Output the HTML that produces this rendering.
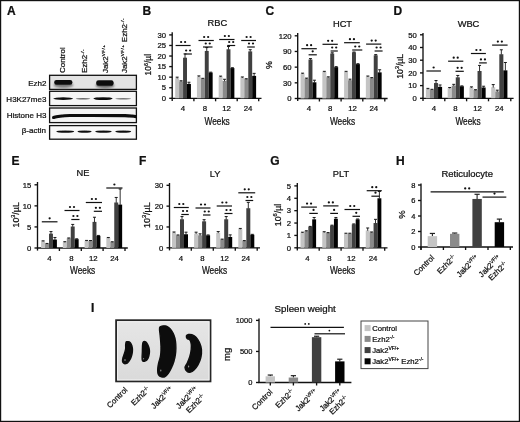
<!DOCTYPE html>
<html><head><meta charset="utf-8"><style>
html,body{margin:0;padding:0;background:#fff;overflow:hidden;width:520px;height:422px;}
svg{display:block;opacity:0.999;filter:blur(0.3px);}
text{font-family:"Liberation Sans", sans-serif;stroke:#111;stroke-width:0.24px;}
</style></head><body>
<svg width="520" height="422" viewBox="0 0 520 422">
<defs><filter id="bl6" x="-20%" y="-50%" width="140%" height="200%"><feGaussianBlur stdDeviation="0.6"/></filter><filter id="bl10" x="-30%" y="-100%" width="160%" height="300%"><feGaussianBlur stdDeviation="1.0"/></filter><filter id="bl4" x="-20%" y="-20%" width="140%" height="140%"><feGaussianBlur stdDeviation="0.4"/></filter></defs>
<rect x="0" y="0" width="520" height="422" fill="#fff"/>

<line x1="172.20" y1="32.30" x2="172.20" y2="100.90" stroke="#111" stroke-width="1.35"/>
<line x1="169.20" y1="98.30" x2="172.20" y2="98.30" stroke="#111" stroke-width="1.35"/>
<text x="166.00" y="101.05" font-size="7.7" text-anchor="end" font-weight="normal" fill="#111" >0</text>
<line x1="169.20" y1="87.73" x2="172.20" y2="87.73" stroke="#111" stroke-width="1.35"/>
<text x="166.00" y="90.48" font-size="7.7" text-anchor="end" font-weight="normal" fill="#111" >5</text>
<line x1="169.20" y1="77.17" x2="172.20" y2="77.17" stroke="#111" stroke-width="1.35"/>
<text x="166.00" y="79.92" font-size="7.7" text-anchor="end" font-weight="normal" fill="#111" >10</text>
<line x1="169.20" y1="66.60" x2="172.20" y2="66.60" stroke="#111" stroke-width="1.35"/>
<text x="166.00" y="69.35" font-size="7.7" text-anchor="end" font-weight="normal" fill="#111" >15</text>
<line x1="169.20" y1="56.03" x2="172.20" y2="56.03" stroke="#111" stroke-width="1.35"/>
<text x="166.00" y="58.78" font-size="7.7" text-anchor="end" font-weight="normal" fill="#111" >20</text>
<line x1="169.20" y1="45.47" x2="172.20" y2="45.47" stroke="#111" stroke-width="1.35"/>
<text x="166.00" y="48.22" font-size="7.7" text-anchor="end" font-weight="normal" fill="#111" >25</text>
<line x1="169.20" y1="34.90" x2="172.20" y2="34.90" stroke="#111" stroke-width="1.35"/>
<text x="166.00" y="37.65" font-size="7.7" text-anchor="end" font-weight="normal" fill="#111" >30</text>
<line x1="171.60" y1="98.30" x2="261.50" y2="98.30" stroke="#111" stroke-width="1.35"/>
<line x1="193.90" y1="98.30" x2="193.90" y2="101.30" stroke="#111" stroke-width="1.35"/>
<line x1="215.60" y1="98.30" x2="215.60" y2="101.30" stroke="#111" stroke-width="1.35"/>
<line x1="237.20" y1="98.30" x2="237.20" y2="101.30" stroke="#111" stroke-width="1.35"/>
<line x1="258.70" y1="98.30" x2="258.70" y2="101.30" stroke="#111" stroke-width="1.35"/>
<rect x="175.20" y="78.22" width="3.93" height="20.08" fill="#c4c4c4" />
<line x1="177.16" y1="77.17" x2="177.16" y2="78.52" stroke="#1a1a1a" stroke-width="0.9"/>
<line x1="175.66" y1="77.17" x2="178.66" y2="77.17" stroke="#1a1a1a" stroke-width="1.0"/>
<rect x="179.13" y="81.39" width="3.93" height="16.91" fill="#8a8a8a" />
<line x1="181.09" y1="80.76" x2="181.09" y2="81.69" stroke="#1a1a1a" stroke-width="0.9"/>
<line x1="179.59" y1="80.76" x2="182.59" y2="80.76" stroke="#1a1a1a" stroke-width="1.0"/>
<rect x="183.06" y="57.72" width="3.93" height="40.58" fill="#404040" />
<line x1="185.03" y1="53.92" x2="185.03" y2="58.02" stroke="#1a1a1a" stroke-width="0.9"/>
<line x1="183.53" y1="53.92" x2="186.53" y2="53.92" stroke="#1a1a1a" stroke-width="1.0"/>
<rect x="186.99" y="83.93" width="3.93" height="14.37" fill="#030303" />
<line x1="188.95" y1="82.24" x2="188.95" y2="84.23" stroke="#1a1a1a" stroke-width="0.9"/>
<line x1="187.45" y1="82.24" x2="190.45" y2="82.24" stroke="#1a1a1a" stroke-width="1.0"/>
<rect x="196.93" y="76.74" width="3.93" height="21.56" fill="#c4c4c4" />
<line x1="198.89" y1="75.90" x2="198.89" y2="77.04" stroke="#1a1a1a" stroke-width="0.9"/>
<line x1="197.39" y1="75.90" x2="200.39" y2="75.90" stroke="#1a1a1a" stroke-width="1.0"/>
<rect x="200.86" y="78.65" width="3.93" height="19.65" fill="#8a8a8a" />
<line x1="202.82" y1="78.30" x2="202.82" y2="78.95" stroke="#1a1a1a" stroke-width="0.9"/>
<line x1="201.32" y1="78.30" x2="204.32" y2="78.30" stroke="#1a1a1a" stroke-width="1.0"/>
<rect x="204.79" y="50.96" width="3.93" height="47.34" fill="#404040" />
<line x1="206.75" y1="47.58" x2="206.75" y2="51.26" stroke="#1a1a1a" stroke-width="0.9"/>
<line x1="205.25" y1="47.58" x2="208.25" y2="47.58" stroke="#1a1a1a" stroke-width="1.0"/>
<rect x="208.72" y="72.52" width="3.93" height="25.78" fill="#030303" />
<line x1="210.68" y1="72.17" x2="210.68" y2="72.82" stroke="#1a1a1a" stroke-width="0.9"/>
<line x1="209.18" y1="72.17" x2="212.18" y2="72.17" stroke="#1a1a1a" stroke-width="1.0"/>
<rect x="218.66" y="76.74" width="3.93" height="21.56" fill="#c4c4c4" />
<line x1="220.62" y1="76.11" x2="220.62" y2="77.04" stroke="#1a1a1a" stroke-width="0.9"/>
<line x1="219.12" y1="76.11" x2="222.12" y2="76.11" stroke="#1a1a1a" stroke-width="1.0"/>
<rect x="222.59" y="80.97" width="3.93" height="17.33" fill="#8a8a8a" />
<line x1="224.56" y1="79.28" x2="224.56" y2="81.27" stroke="#1a1a1a" stroke-width="0.9"/>
<line x1="223.06" y1="79.28" x2="226.06" y2="79.28" stroke="#1a1a1a" stroke-width="1.0"/>
<rect x="226.52" y="49.27" width="3.93" height="49.03" fill="#404040" />
<line x1="228.49" y1="46.52" x2="228.49" y2="49.57" stroke="#1a1a1a" stroke-width="0.9"/>
<line x1="226.99" y1="46.52" x2="229.99" y2="46.52" stroke="#1a1a1a" stroke-width="1.0"/>
<rect x="230.45" y="68.08" width="3.93" height="30.22" fill="#030303" />
<line x1="232.41" y1="67.73" x2="232.41" y2="68.38" stroke="#1a1a1a" stroke-width="0.9"/>
<line x1="230.91" y1="67.73" x2="233.91" y2="67.73" stroke="#1a1a1a" stroke-width="1.0"/>
<rect x="240.39" y="77.59" width="3.93" height="20.71" fill="#c4c4c4" />
<line x1="242.35" y1="76.96" x2="242.35" y2="77.89" stroke="#1a1a1a" stroke-width="0.9"/>
<line x1="240.85" y1="76.96" x2="243.85" y2="76.96" stroke="#1a1a1a" stroke-width="1.0"/>
<rect x="244.32" y="79.07" width="3.93" height="19.23" fill="#8a8a8a" />
<line x1="246.28" y1="78.72" x2="246.28" y2="79.37" stroke="#1a1a1a" stroke-width="0.9"/>
<line x1="244.78" y1="78.72" x2="247.78" y2="78.72" stroke="#1a1a1a" stroke-width="1.0"/>
<rect x="248.25" y="51.38" width="3.93" height="46.92" fill="#404040" />
<line x1="250.22" y1="49.69" x2="250.22" y2="51.68" stroke="#1a1a1a" stroke-width="0.9"/>
<line x1="248.72" y1="49.69" x2="251.72" y2="49.69" stroke="#1a1a1a" stroke-width="1.0"/>
<rect x="252.18" y="75.90" width="3.93" height="22.40" fill="#030303" />
<line x1="254.14" y1="73.36" x2="254.14" y2="76.20" stroke="#1a1a1a" stroke-width="0.9"/>
<line x1="252.64" y1="73.36" x2="255.64" y2="73.36" stroke="#1a1a1a" stroke-width="1.0"/>
<line x1="175.60" y1="45.50" x2="190.60" y2="45.50" stroke="#111" stroke-width="1.2"/>
<circle cx="181.10" cy="42.00" r="1.12" fill="#111"/>
<circle cx="185.10" cy="42.00" r="1.12" fill="#111"/>
<line x1="184.40" y1="54.00" x2="191.90" y2="54.00" stroke="#111" stroke-width="1.2"/>
<circle cx="186.15" cy="50.50" r="1.12" fill="#111"/>
<circle cx="190.15" cy="50.50" r="1.12" fill="#111"/>
<line x1="198.50" y1="40.50" x2="213.80" y2="40.50" stroke="#111" stroke-width="1.2"/>
<circle cx="204.15" cy="37.00" r="1.12" fill="#111"/>
<circle cx="208.15" cy="37.00" r="1.12" fill="#111"/>
<line x1="203.00" y1="47.00" x2="212.50" y2="47.00" stroke="#111" stroke-width="1.2"/>
<circle cx="205.75" cy="43.50" r="1.12" fill="#111"/>
<circle cx="209.75" cy="43.50" r="1.12" fill="#111"/>
<line x1="219.20" y1="39.50" x2="234.50" y2="39.50" stroke="#111" stroke-width="1.2"/>
<circle cx="224.85" cy="36.00" r="1.12" fill="#111"/>
<circle cx="228.85" cy="36.00" r="1.12" fill="#111"/>
<line x1="227.20" y1="45.50" x2="235.20" y2="45.50" stroke="#111" stroke-width="1.2"/>
<circle cx="229.20" cy="42.00" r="1.12" fill="#111"/>
<circle cx="233.20" cy="42.00" r="1.12" fill="#111"/>
<line x1="241.20" y1="40.50" x2="256.00" y2="40.50" stroke="#111" stroke-width="1.2"/>
<circle cx="246.60" cy="37.00" r="1.12" fill="#111"/>
<circle cx="250.60" cy="37.00" r="1.12" fill="#111"/>
<line x1="247.20" y1="47.00" x2="254.80" y2="47.00" stroke="#111" stroke-width="1.2"/>
<circle cx="249.00" cy="43.50" r="1.12" fill="#111"/>
<circle cx="253.00" cy="43.50" r="1.12" fill="#111"/>
<text x="182.90" y="111.30" font-size="7.8" text-anchor="middle" font-weight="normal" fill="#111" >4</text>
<text x="204.90" y="111.30" font-size="7.8" text-anchor="middle" font-weight="normal" fill="#111" >8</text>
<text x="226.50" y="111.30" font-size="7.8" text-anchor="middle" font-weight="normal" fill="#111" >12</text>
<text x="248.00" y="111.30" font-size="7.8" text-anchor="middle" font-weight="normal" fill="#111" >24</text>
<text x="217.40" y="26.40" font-size="9.3" text-anchor="middle" font-weight="normal" fill="#111" >RBC</text>
<text x="217.10" y="124.60" font-size="10" text-anchor="middle" font-weight="normal" fill="#111" textLength="25.2" lengthAdjust="spacingAndGlyphs" >Weeks</text>
<text transform="translate(150.90,75.40) rotate(-90)" x="0" y="0" font-size="8.5" text-anchor="start" font-weight="normal" fill="#111" textLength="21.4" lengthAdjust="spacingAndGlyphs" >10<tspan font-size="5.6" dy="-3.3">6</tspan><tspan dy="3.3">/µl</tspan></text>
<text x="142.50" y="15.30" font-size="12" text-anchor="start" font-weight="bold" fill="#111" >B</text>
<line x1="297.70" y1="33.00" x2="297.70" y2="101.10" stroke="#111" stroke-width="1.35"/>
<line x1="294.70" y1="98.50" x2="297.70" y2="98.50" stroke="#111" stroke-width="1.35"/>
<text x="291.50" y="101.25" font-size="7.7" text-anchor="end" font-weight="normal" fill="#111" >0</text>
<line x1="294.70" y1="82.83" x2="297.70" y2="82.83" stroke="#111" stroke-width="1.35"/>
<text x="291.50" y="85.58" font-size="7.7" text-anchor="end" font-weight="normal" fill="#111" >30</text>
<line x1="294.70" y1="67.15" x2="297.70" y2="67.15" stroke="#111" stroke-width="1.35"/>
<text x="291.50" y="69.90" font-size="7.7" text-anchor="end" font-weight="normal" fill="#111" >60</text>
<line x1="294.70" y1="51.47" x2="297.70" y2="51.47" stroke="#111" stroke-width="1.35"/>
<text x="291.50" y="54.22" font-size="7.7" text-anchor="end" font-weight="normal" fill="#111" >90</text>
<line x1="294.70" y1="35.80" x2="297.70" y2="35.80" stroke="#111" stroke-width="1.35"/>
<text x="291.50" y="38.55" font-size="7.7" text-anchor="end" font-weight="normal" fill="#111" >120</text>
<line x1="297.10" y1="98.50" x2="387.60" y2="98.50" stroke="#111" stroke-width="1.35"/>
<line x1="319.40" y1="98.50" x2="319.40" y2="101.50" stroke="#111" stroke-width="1.35"/>
<line x1="341.10" y1="98.50" x2="341.10" y2="101.50" stroke="#111" stroke-width="1.35"/>
<line x1="362.80" y1="98.50" x2="362.80" y2="101.50" stroke="#111" stroke-width="1.35"/>
<line x1="384.80" y1="98.50" x2="384.80" y2="101.50" stroke="#111" stroke-width="1.35"/>
<rect x="300.60" y="73.68" width="3.95" height="24.82" fill="#c4c4c4" />
<line x1="302.58" y1="73.16" x2="302.58" y2="73.98" stroke="#1a1a1a" stroke-width="0.9"/>
<line x1="301.08" y1="73.16" x2="304.08" y2="73.16" stroke="#1a1a1a" stroke-width="1.0"/>
<rect x="304.55" y="78.64" width="3.95" height="19.86" fill="#8a8a8a" />
<line x1="306.53" y1="78.12" x2="306.53" y2="78.94" stroke="#1a1a1a" stroke-width="0.9"/>
<line x1="305.03" y1="78.12" x2="308.03" y2="78.12" stroke="#1a1a1a" stroke-width="1.0"/>
<rect x="308.50" y="59.52" width="3.95" height="38.98" fill="#404040" />
<line x1="310.48" y1="58.58" x2="310.48" y2="59.82" stroke="#1a1a1a" stroke-width="0.9"/>
<line x1="308.98" y1="58.58" x2="311.98" y2="58.58" stroke="#1a1a1a" stroke-width="1.0"/>
<rect x="312.45" y="82.30" width="3.95" height="16.20" fill="#030303" />
<line x1="314.43" y1="80.21" x2="314.43" y2="82.60" stroke="#1a1a1a" stroke-width="0.9"/>
<line x1="312.93" y1="80.21" x2="315.93" y2="80.21" stroke="#1a1a1a" stroke-width="1.0"/>
<rect x="322.35" y="71.85" width="3.95" height="26.65" fill="#c4c4c4" />
<line x1="324.33" y1="71.33" x2="324.33" y2="72.15" stroke="#1a1a1a" stroke-width="0.9"/>
<line x1="322.83" y1="71.33" x2="325.83" y2="71.33" stroke="#1a1a1a" stroke-width="1.0"/>
<rect x="326.30" y="77.34" width="3.95" height="21.16" fill="#8a8a8a" />
<line x1="328.28" y1="76.82" x2="328.28" y2="77.64" stroke="#1a1a1a" stroke-width="0.9"/>
<line x1="326.78" y1="76.82" x2="329.78" y2="76.82" stroke="#1a1a1a" stroke-width="1.0"/>
<rect x="330.25" y="53.56" width="3.95" height="44.94" fill="#404040" />
<line x1="332.23" y1="52.78" x2="332.23" y2="53.86" stroke="#1a1a1a" stroke-width="0.9"/>
<line x1="330.73" y1="52.78" x2="333.73" y2="52.78" stroke="#1a1a1a" stroke-width="1.0"/>
<rect x="334.20" y="67.15" width="3.95" height="31.35" fill="#030303" />
<line x1="336.18" y1="66.63" x2="336.18" y2="67.45" stroke="#1a1a1a" stroke-width="0.9"/>
<line x1="334.68" y1="66.63" x2="337.68" y2="66.63" stroke="#1a1a1a" stroke-width="1.0"/>
<rect x="344.10" y="71.85" width="3.95" height="26.65" fill="#c4c4c4" />
<line x1="346.08" y1="71.33" x2="346.08" y2="72.15" stroke="#1a1a1a" stroke-width="0.9"/>
<line x1="344.58" y1="71.33" x2="347.58" y2="71.33" stroke="#1a1a1a" stroke-width="1.0"/>
<rect x="348.05" y="80.21" width="3.95" height="18.29" fill="#8a8a8a" />
<line x1="350.03" y1="79.17" x2="350.03" y2="80.51" stroke="#1a1a1a" stroke-width="0.9"/>
<line x1="348.53" y1="79.17" x2="351.53" y2="79.17" stroke="#1a1a1a" stroke-width="1.0"/>
<rect x="352.00" y="52.31" width="3.95" height="46.19" fill="#404040" />
<line x1="353.98" y1="52.00" x2="353.98" y2="52.61" stroke="#1a1a1a" stroke-width="0.9"/>
<line x1="352.48" y1="52.00" x2="355.48" y2="52.00" stroke="#1a1a1a" stroke-width="1.0"/>
<rect x="355.95" y="64.12" width="3.95" height="34.38" fill="#030303" />
<line x1="357.93" y1="63.70" x2="357.93" y2="64.42" stroke="#1a1a1a" stroke-width="0.9"/>
<line x1="356.43" y1="63.70" x2="359.43" y2="63.70" stroke="#1a1a1a" stroke-width="1.0"/>
<rect x="365.85" y="76.55" width="3.95" height="21.95" fill="#c4c4c4" />
<line x1="367.83" y1="76.03" x2="367.83" y2="76.85" stroke="#1a1a1a" stroke-width="0.9"/>
<line x1="366.33" y1="76.03" x2="369.33" y2="76.03" stroke="#1a1a1a" stroke-width="1.0"/>
<rect x="369.80" y="78.12" width="3.95" height="20.38" fill="#8a8a8a" />
<line x1="371.78" y1="77.60" x2="371.78" y2="78.42" stroke="#1a1a1a" stroke-width="0.9"/>
<line x1="370.28" y1="77.60" x2="373.28" y2="77.60" stroke="#1a1a1a" stroke-width="1.0"/>
<rect x="373.75" y="55.29" width="3.95" height="43.21" fill="#404040" />
<line x1="375.73" y1="54.61" x2="375.73" y2="55.59" stroke="#1a1a1a" stroke-width="0.9"/>
<line x1="374.23" y1="54.61" x2="377.23" y2="54.61" stroke="#1a1a1a" stroke-width="1.0"/>
<rect x="377.70" y="72.38" width="3.95" height="26.13" fill="#030303" />
<line x1="379.68" y1="69.76" x2="379.68" y2="72.67" stroke="#1a1a1a" stroke-width="0.9"/>
<line x1="378.18" y1="69.76" x2="381.18" y2="69.76" stroke="#1a1a1a" stroke-width="1.0"/>
<line x1="301.40" y1="48.70" x2="316.80" y2="48.70" stroke="#111" stroke-width="1.2"/>
<circle cx="307.10" cy="45.20" r="1.12" fill="#111"/>
<circle cx="311.10" cy="45.20" r="1.12" fill="#111"/>
<line x1="308.60" y1="54.80" x2="316.80" y2="54.80" stroke="#111" stroke-width="1.2"/>
<circle cx="312.70" cy="51.30" r="1.12" fill="#111"/>
<line x1="322.50" y1="44.30" x2="337.80" y2="44.30" stroke="#111" stroke-width="1.2"/>
<circle cx="328.15" cy="40.80" r="1.12" fill="#111"/>
<circle cx="332.15" cy="40.80" r="1.12" fill="#111"/>
<line x1="330.60" y1="51.00" x2="337.80" y2="51.00" stroke="#111" stroke-width="1.2"/>
<circle cx="332.20" cy="47.50" r="1.12" fill="#111"/>
<circle cx="336.20" cy="47.50" r="1.12" fill="#111"/>
<line x1="344.10" y1="42.70" x2="359.80" y2="42.70" stroke="#111" stroke-width="1.2"/>
<circle cx="349.95" cy="39.20" r="1.12" fill="#111"/>
<circle cx="353.95" cy="39.20" r="1.12" fill="#111"/>
<line x1="352.20" y1="50.00" x2="362.30" y2="50.00" stroke="#111" stroke-width="1.2"/>
<circle cx="355.25" cy="46.50" r="1.12" fill="#111"/>
<circle cx="359.25" cy="46.50" r="1.12" fill="#111"/>
<line x1="366.10" y1="44.10" x2="381.30" y2="44.10" stroke="#111" stroke-width="1.2"/>
<circle cx="371.70" cy="40.60" r="1.12" fill="#111"/>
<circle cx="375.70" cy="40.60" r="1.12" fill="#111"/>
<line x1="374.60" y1="51.00" x2="382.60" y2="51.00" stroke="#111" stroke-width="1.2"/>
<circle cx="376.60" cy="47.50" r="1.12" fill="#111"/>
<circle cx="380.60" cy="47.50" r="1.12" fill="#111"/>
<text x="308.80" y="111.30" font-size="7.8" text-anchor="middle" font-weight="normal" fill="#111" >4</text>
<text x="330.20" y="111.30" font-size="7.8" text-anchor="middle" font-weight="normal" fill="#111" >8</text>
<text x="352.50" y="111.30" font-size="7.8" text-anchor="middle" font-weight="normal" fill="#111" >12</text>
<text x="373.80" y="111.30" font-size="7.8" text-anchor="middle" font-weight="normal" fill="#111" >24</text>
<text x="342.50" y="27.00" font-size="9.3" text-anchor="middle" font-weight="normal" fill="#111" >HCT</text>
<text x="342.50" y="124.60" font-size="10" text-anchor="middle" font-weight="normal" fill="#111" textLength="25.2" lengthAdjust="spacingAndGlyphs" >Weeks</text>
<text transform="translate(272.20,65.00) rotate(-90)" x="0" y="0" font-size="8.8" text-anchor="middle" font-weight="normal" fill="#111" >%</text>
<text x="265.40" y="15.30" font-size="12" text-anchor="start" font-weight="bold" fill="#111" >C</text>
<line x1="423.00" y1="33.00" x2="423.00" y2="100.90" stroke="#111" stroke-width="1.35"/>
<line x1="420.00" y1="98.30" x2="423.00" y2="98.30" stroke="#111" stroke-width="1.35"/>
<text x="416.80" y="101.05" font-size="7.7" text-anchor="end" font-weight="normal" fill="#111" >0</text>
<line x1="420.00" y1="85.60" x2="423.00" y2="85.60" stroke="#111" stroke-width="1.35"/>
<text x="416.80" y="88.35" font-size="7.7" text-anchor="end" font-weight="normal" fill="#111" >10</text>
<line x1="420.00" y1="72.90" x2="423.00" y2="72.90" stroke="#111" stroke-width="1.35"/>
<text x="416.80" y="75.65" font-size="7.7" text-anchor="end" font-weight="normal" fill="#111" >20</text>
<line x1="420.00" y1="60.20" x2="423.00" y2="60.20" stroke="#111" stroke-width="1.35"/>
<text x="416.80" y="62.95" font-size="7.7" text-anchor="end" font-weight="normal" fill="#111" >30</text>
<line x1="420.00" y1="47.50" x2="423.00" y2="47.50" stroke="#111" stroke-width="1.35"/>
<text x="416.80" y="50.25" font-size="7.7" text-anchor="end" font-weight="normal" fill="#111" >40</text>
<line x1="420.00" y1="34.80" x2="423.00" y2="34.80" stroke="#111" stroke-width="1.35"/>
<text x="416.80" y="37.55" font-size="7.7" text-anchor="end" font-weight="normal" fill="#111" >50</text>
<line x1="422.40" y1="98.30" x2="513.60" y2="98.30" stroke="#111" stroke-width="1.35"/>
<line x1="444.80" y1="98.30" x2="444.80" y2="101.30" stroke="#111" stroke-width="1.35"/>
<line x1="466.60" y1="98.30" x2="466.60" y2="101.30" stroke="#111" stroke-width="1.35"/>
<line x1="488.50" y1="98.30" x2="488.50" y2="101.30" stroke="#111" stroke-width="1.35"/>
<line x1="510.80" y1="98.30" x2="510.80" y2="101.30" stroke="#111" stroke-width="1.35"/>
<rect x="425.90" y="89.03" width="4.05" height="9.27" fill="#c4c4c4" />
<line x1="427.92" y1="88.39" x2="427.92" y2="89.33" stroke="#1a1a1a" stroke-width="0.9"/>
<line x1="426.42" y1="88.39" x2="429.42" y2="88.39" stroke="#1a1a1a" stroke-width="1.0"/>
<rect x="429.95" y="89.66" width="4.05" height="8.64" fill="#8a8a8a" />
<line x1="431.97" y1="89.31" x2="431.97" y2="89.96" stroke="#1a1a1a" stroke-width="0.9"/>
<line x1="430.47" y1="89.31" x2="433.47" y2="89.31" stroke="#1a1a1a" stroke-width="1.0"/>
<rect x="434.00" y="83.06" width="4.05" height="15.24" fill="#404040" />
<line x1="436.02" y1="80.52" x2="436.02" y2="83.36" stroke="#1a1a1a" stroke-width="0.9"/>
<line x1="434.52" y1="80.52" x2="437.52" y2="80.52" stroke="#1a1a1a" stroke-width="1.0"/>
<rect x="438.05" y="86.87" width="4.05" height="11.43" fill="#030303" />
<line x1="440.07" y1="84.97" x2="440.07" y2="87.17" stroke="#1a1a1a" stroke-width="0.9"/>
<line x1="438.57" y1="84.97" x2="441.57" y2="84.97" stroke="#1a1a1a" stroke-width="1.0"/>
<rect x="447.67" y="88.14" width="4.05" height="10.16" fill="#c4c4c4" />
<line x1="449.69" y1="87.50" x2="449.69" y2="88.44" stroke="#1a1a1a" stroke-width="0.9"/>
<line x1="448.19" y1="87.50" x2="451.19" y2="87.50" stroke="#1a1a1a" stroke-width="1.0"/>
<rect x="451.72" y="85.60" width="4.05" height="12.70" fill="#8a8a8a" />
<line x1="453.74" y1="84.33" x2="453.74" y2="85.90" stroke="#1a1a1a" stroke-width="0.9"/>
<line x1="452.24" y1="84.33" x2="455.24" y2="84.33" stroke="#1a1a1a" stroke-width="1.0"/>
<rect x="455.77" y="77.34" width="4.05" height="20.96" fill="#404040" />
<line x1="457.79" y1="75.44" x2="457.79" y2="77.64" stroke="#1a1a1a" stroke-width="0.9"/>
<line x1="456.29" y1="75.44" x2="459.29" y2="75.44" stroke="#1a1a1a" stroke-width="1.0"/>
<rect x="459.82" y="86.23" width="4.05" height="12.06" fill="#030303" />
<line x1="461.84" y1="85.88" x2="461.84" y2="86.53" stroke="#1a1a1a" stroke-width="0.9"/>
<line x1="460.34" y1="85.88" x2="463.34" y2="85.88" stroke="#1a1a1a" stroke-width="1.0"/>
<rect x="469.44" y="87.50" width="4.05" height="10.79" fill="#c4c4c4" />
<line x1="471.46" y1="86.87" x2="471.46" y2="87.80" stroke="#1a1a1a" stroke-width="0.9"/>
<line x1="469.96" y1="86.87" x2="472.96" y2="86.87" stroke="#1a1a1a" stroke-width="1.0"/>
<rect x="473.49" y="90.05" width="4.05" height="8.26" fill="#8a8a8a" />
<line x1="475.51" y1="89.69" x2="475.51" y2="90.34" stroke="#1a1a1a" stroke-width="0.9"/>
<line x1="474.01" y1="89.69" x2="477.01" y2="89.69" stroke="#1a1a1a" stroke-width="1.0"/>
<rect x="477.54" y="71.00" width="4.05" height="27.30" fill="#404040" />
<line x1="479.56" y1="65.41" x2="479.56" y2="71.30" stroke="#1a1a1a" stroke-width="0.9"/>
<line x1="478.06" y1="65.41" x2="481.06" y2="65.41" stroke="#1a1a1a" stroke-width="1.0"/>
<rect x="481.59" y="87.50" width="4.05" height="10.79" fill="#030303" />
<line x1="483.61" y1="86.23" x2="483.61" y2="87.80" stroke="#1a1a1a" stroke-width="0.9"/>
<line x1="482.11" y1="86.23" x2="485.11" y2="86.23" stroke="#1a1a1a" stroke-width="1.0"/>
<rect x="491.21" y="87.25" width="4.05" height="11.05" fill="#c4c4c4" />
<line x1="493.23" y1="84.58" x2="493.23" y2="87.55" stroke="#1a1a1a" stroke-width="0.9"/>
<line x1="491.73" y1="84.58" x2="494.73" y2="84.58" stroke="#1a1a1a" stroke-width="1.0"/>
<rect x="495.26" y="91.44" width="4.05" height="6.86" fill="#8a8a8a" />
<line x1="497.28" y1="90.17" x2="497.28" y2="91.74" stroke="#1a1a1a" stroke-width="0.9"/>
<line x1="495.78" y1="90.17" x2="498.78" y2="90.17" stroke="#1a1a1a" stroke-width="1.0"/>
<rect x="499.31" y="54.23" width="4.05" height="44.07" fill="#404040" />
<line x1="501.33" y1="49.79" x2="501.33" y2="54.53" stroke="#1a1a1a" stroke-width="0.9"/>
<line x1="499.83" y1="49.79" x2="502.83" y2="49.79" stroke="#1a1a1a" stroke-width="1.0"/>
<rect x="503.36" y="70.36" width="4.05" height="27.94" fill="#030303" />
<line x1="505.38" y1="62.49" x2="505.38" y2="70.66" stroke="#1a1a1a" stroke-width="0.9"/>
<line x1="503.88" y1="62.49" x2="506.88" y2="62.49" stroke="#1a1a1a" stroke-width="1.0"/>
<line x1="426.40" y1="71.00" x2="440.90" y2="71.00" stroke="#111" stroke-width="1.2"/>
<circle cx="433.65" cy="67.50" r="1.12" fill="#111"/>
<line x1="448.10" y1="61.20" x2="463.30" y2="61.20" stroke="#111" stroke-width="1.2"/>
<circle cx="453.70" cy="57.70" r="1.12" fill="#111"/>
<circle cx="457.70" cy="57.70" r="1.12" fill="#111"/>
<line x1="455.50" y1="71.30" x2="463.80" y2="71.30" stroke="#111" stroke-width="1.2"/>
<circle cx="457.65" cy="67.80" r="1.12" fill="#111"/>
<circle cx="461.65" cy="67.80" r="1.12" fill="#111"/>
<line x1="470.90" y1="53.50" x2="485.90" y2="53.50" stroke="#111" stroke-width="1.2"/>
<circle cx="476.40" cy="50.00" r="1.12" fill="#111"/>
<circle cx="480.40" cy="50.00" r="1.12" fill="#111"/>
<line x1="479.10" y1="62.90" x2="486.80" y2="62.90" stroke="#111" stroke-width="1.2"/>
<circle cx="480.95" cy="59.40" r="1.12" fill="#111"/>
<circle cx="484.95" cy="59.40" r="1.12" fill="#111"/>
<line x1="492.10" y1="45.10" x2="507.60" y2="45.10" stroke="#111" stroke-width="1.2"/>
<circle cx="497.85" cy="41.60" r="1.12" fill="#111"/>
<circle cx="501.85" cy="41.60" r="1.12" fill="#111"/>
<text x="433.80" y="111.30" font-size="7.8" text-anchor="middle" font-weight="normal" fill="#111" >4</text>
<text x="455.50" y="111.30" font-size="7.8" text-anchor="middle" font-weight="normal" fill="#111" >8</text>
<text x="477.50" y="111.30" font-size="7.8" text-anchor="middle" font-weight="normal" fill="#111" >12</text>
<text x="499.30" y="111.30" font-size="7.8" text-anchor="middle" font-weight="normal" fill="#111" >24</text>
<text x="468.50" y="26.60" font-size="9.3" text-anchor="middle" font-weight="normal" fill="#111" >WBC</text>
<text x="468.00" y="124.60" font-size="10" text-anchor="middle" font-weight="normal" fill="#111" textLength="25.2" lengthAdjust="spacingAndGlyphs" >Weeks</text>
<text transform="translate(402.60,78.70) rotate(-90)" x="0" y="0" font-size="9" text-anchor="start" font-weight="normal" fill="#111" textLength="24.8" lengthAdjust="spacingAndGlyphs" >10<tspan font-size="5.6" dy="-3.3">3</tspan><tspan dy="3.3">/µL</tspan></text>
<text x="393.40" y="15.30" font-size="12" text-anchor="start" font-weight="bold" fill="#111" >D</text>
<line x1="37.50" y1="182.00" x2="37.50" y2="250.60" stroke="#111" stroke-width="1.35"/>
<line x1="34.50" y1="248.00" x2="37.50" y2="248.00" stroke="#111" stroke-width="1.35"/>
<text x="31.30" y="250.75" font-size="7.7" text-anchor="end" font-weight="normal" fill="#111" >0</text>
<line x1="34.50" y1="226.93" x2="37.50" y2="226.93" stroke="#111" stroke-width="1.35"/>
<text x="31.30" y="229.68" font-size="7.7" text-anchor="end" font-weight="normal" fill="#111" >5</text>
<line x1="34.50" y1="205.87" x2="37.50" y2="205.87" stroke="#111" stroke-width="1.35"/>
<text x="31.30" y="208.62" font-size="7.7" text-anchor="end" font-weight="normal" fill="#111" >10</text>
<line x1="34.50" y1="184.80" x2="37.50" y2="184.80" stroke="#111" stroke-width="1.35"/>
<text x="31.30" y="187.55" font-size="7.7" text-anchor="end" font-weight="normal" fill="#111" >15</text>
<line x1="36.90" y1="248.00" x2="127.80" y2="248.00" stroke="#111" stroke-width="1.35"/>
<line x1="59.40" y1="248.00" x2="59.40" y2="251.00" stroke="#111" stroke-width="1.35"/>
<line x1="81.30" y1="248.00" x2="81.30" y2="251.00" stroke="#111" stroke-width="1.35"/>
<line x1="103.10" y1="248.00" x2="103.10" y2="251.00" stroke="#111" stroke-width="1.35"/>
<line x1="125.00" y1="248.00" x2="125.00" y2="251.00" stroke="#111" stroke-width="1.35"/>
<rect x="41.10" y="241.26" width="3.95" height="6.74" fill="#c4c4c4" />
<line x1="43.08" y1="240.84" x2="43.08" y2="241.56" stroke="#1a1a1a" stroke-width="0.9"/>
<line x1="41.58" y1="240.84" x2="44.58" y2="240.84" stroke="#1a1a1a" stroke-width="1.0"/>
<rect x="45.05" y="243.79" width="3.95" height="4.21" fill="#8a8a8a" />
<line x1="47.03" y1="243.44" x2="47.03" y2="244.09" stroke="#1a1a1a" stroke-width="0.9"/>
<line x1="45.53" y1="243.44" x2="48.53" y2="243.44" stroke="#1a1a1a" stroke-width="1.0"/>
<rect x="49.00" y="233.67" width="3.95" height="14.33" fill="#404040" />
<line x1="50.98" y1="231.57" x2="50.98" y2="233.97" stroke="#1a1a1a" stroke-width="0.9"/>
<line x1="49.48" y1="231.57" x2="52.48" y2="231.57" stroke="#1a1a1a" stroke-width="1.0"/>
<rect x="52.95" y="239.57" width="3.95" height="8.43" fill="#030303" />
<line x1="54.93" y1="237.47" x2="54.93" y2="239.87" stroke="#1a1a1a" stroke-width="0.9"/>
<line x1="53.43" y1="237.47" x2="56.43" y2="237.47" stroke="#1a1a1a" stroke-width="1.0"/>
<rect x="62.85" y="242.10" width="3.95" height="5.90" fill="#c4c4c4" />
<line x1="64.83" y1="241.68" x2="64.83" y2="242.40" stroke="#1a1a1a" stroke-width="0.9"/>
<line x1="63.33" y1="241.68" x2="66.33" y2="241.68" stroke="#1a1a1a" stroke-width="1.0"/>
<rect x="66.80" y="238.31" width="3.95" height="9.69" fill="#8a8a8a" />
<line x1="68.77" y1="237.96" x2="68.77" y2="238.61" stroke="#1a1a1a" stroke-width="0.9"/>
<line x1="67.27" y1="237.96" x2="70.27" y2="237.96" stroke="#1a1a1a" stroke-width="1.0"/>
<rect x="70.75" y="226.51" width="3.95" height="21.49" fill="#404040" />
<line x1="72.72" y1="224.41" x2="72.72" y2="226.81" stroke="#1a1a1a" stroke-width="0.9"/>
<line x1="71.22" y1="224.41" x2="74.22" y2="224.41" stroke="#1a1a1a" stroke-width="1.0"/>
<rect x="74.70" y="239.15" width="3.95" height="8.85" fill="#030303" />
<line x1="76.67" y1="238.80" x2="76.67" y2="239.45" stroke="#1a1a1a" stroke-width="0.9"/>
<line x1="75.17" y1="238.80" x2="78.17" y2="238.80" stroke="#1a1a1a" stroke-width="1.0"/>
<rect x="84.60" y="240.84" width="3.95" height="7.16" fill="#c4c4c4" />
<line x1="86.57" y1="240.42" x2="86.57" y2="241.14" stroke="#1a1a1a" stroke-width="0.9"/>
<line x1="85.07" y1="240.42" x2="88.07" y2="240.42" stroke="#1a1a1a" stroke-width="1.0"/>
<rect x="88.55" y="240.84" width="3.95" height="7.16" fill="#8a8a8a" />
<line x1="90.52" y1="240.49" x2="90.52" y2="241.14" stroke="#1a1a1a" stroke-width="0.9"/>
<line x1="89.02" y1="240.49" x2="92.02" y2="240.49" stroke="#1a1a1a" stroke-width="1.0"/>
<rect x="92.50" y="221.88" width="3.95" height="26.12" fill="#404040" />
<line x1="94.47" y1="217.24" x2="94.47" y2="222.18" stroke="#1a1a1a" stroke-width="0.9"/>
<line x1="92.97" y1="217.24" x2="95.97" y2="217.24" stroke="#1a1a1a" stroke-width="1.0"/>
<rect x="96.45" y="235.78" width="3.95" height="12.22" fill="#030303" />
<line x1="98.42" y1="235.43" x2="98.42" y2="236.08" stroke="#1a1a1a" stroke-width="0.9"/>
<line x1="96.92" y1="235.43" x2="99.92" y2="235.43" stroke="#1a1a1a" stroke-width="1.0"/>
<rect x="106.35" y="237.89" width="3.95" height="10.11" fill="#c4c4c4" />
<line x1="108.32" y1="237.47" x2="108.32" y2="238.19" stroke="#1a1a1a" stroke-width="0.9"/>
<line x1="106.82" y1="237.47" x2="109.82" y2="237.47" stroke="#1a1a1a" stroke-width="1.0"/>
<rect x="110.30" y="242.10" width="3.95" height="5.90" fill="#8a8a8a" />
<line x1="112.27" y1="241.75" x2="112.27" y2="242.40" stroke="#1a1a1a" stroke-width="0.9"/>
<line x1="110.77" y1="241.75" x2="113.77" y2="241.75" stroke="#1a1a1a" stroke-width="1.0"/>
<rect x="114.25" y="202.50" width="3.95" height="45.50" fill="#404040" />
<line x1="116.22" y1="197.44" x2="116.22" y2="202.80" stroke="#1a1a1a" stroke-width="0.9"/>
<line x1="114.72" y1="197.44" x2="117.72" y2="197.44" stroke="#1a1a1a" stroke-width="1.0"/>
<rect x="118.20" y="204.60" width="3.95" height="43.40" fill="#030303" />
<line x1="120.17" y1="189.01" x2="120.17" y2="204.90" stroke="#1a1a1a" stroke-width="0.9"/>
<line x1="118.67" y1="189.01" x2="121.67" y2="189.01" stroke="#1a1a1a" stroke-width="1.0"/>
<line x1="41.80" y1="221.80" x2="57.50" y2="221.80" stroke="#111" stroke-width="1.2"/>
<circle cx="49.65" cy="218.30" r="1.12" fill="#111"/>
<line x1="64.50" y1="210.50" x2="79.50" y2="210.50" stroke="#111" stroke-width="1.2"/>
<circle cx="70.00" cy="207.00" r="1.12" fill="#111"/>
<circle cx="74.00" cy="207.00" r="1.12" fill="#111"/>
<line x1="71.30" y1="219.50" x2="79.50" y2="219.50" stroke="#111" stroke-width="1.2"/>
<circle cx="73.40" cy="216.00" r="1.12" fill="#111"/>
<circle cx="77.40" cy="216.00" r="1.12" fill="#111"/>
<line x1="85.80" y1="202.50" x2="102.00" y2="202.50" stroke="#111" stroke-width="1.2"/>
<circle cx="91.90" cy="199.00" r="1.12" fill="#111"/>
<circle cx="95.90" cy="199.00" r="1.12" fill="#111"/>
<line x1="93.80" y1="211.30" x2="102.00" y2="211.30" stroke="#111" stroke-width="1.2"/>
<circle cx="95.90" cy="207.80" r="1.12" fill="#111"/>
<circle cx="99.90" cy="207.80" r="1.12" fill="#111"/>
<line x1="106.30" y1="188.00" x2="122.50" y2="188.00" stroke="#111" stroke-width="1.2"/>
<circle cx="114.40" cy="184.50" r="1.12" fill="#111"/>
<text x="49.30" y="260.70" font-size="7.8" text-anchor="middle" font-weight="normal" fill="#111" >4</text>
<text x="71.30" y="260.70" font-size="7.8" text-anchor="middle" font-weight="normal" fill="#111" >8</text>
<text x="93.30" y="260.70" font-size="7.8" text-anchor="middle" font-weight="normal" fill="#111" >12</text>
<text x="114.60" y="260.70" font-size="7.8" text-anchor="middle" font-weight="normal" fill="#111" >24</text>
<text x="83.00" y="176.30" font-size="9.3" text-anchor="middle" font-weight="normal" fill="#111" >NE</text>
<text x="82.60" y="274.40" font-size="10" text-anchor="middle" font-weight="normal" fill="#111" textLength="25.2" lengthAdjust="spacingAndGlyphs" >Weeks</text>
<text transform="translate(18.70,227.50) rotate(-90)" x="0" y="0" font-size="9" text-anchor="start" font-weight="normal" fill="#111" textLength="25.3" lengthAdjust="spacingAndGlyphs" >10<tspan font-size="5.6" dy="-3.3">3</tspan><tspan dy="3.3">/µL</tspan></text>
<text x="11.40" y="165.20" font-size="12" text-anchor="start" font-weight="bold" fill="#111" >E</text>
<line x1="169.50" y1="183.00" x2="169.50" y2="250.40" stroke="#111" stroke-width="1.35"/>
<line x1="166.50" y1="247.80" x2="169.50" y2="247.80" stroke="#111" stroke-width="1.35"/>
<text x="163.30" y="250.55" font-size="7.7" text-anchor="end" font-weight="normal" fill="#111" >0</text>
<line x1="166.50" y1="226.97" x2="169.50" y2="226.97" stroke="#111" stroke-width="1.35"/>
<text x="163.30" y="229.72" font-size="7.7" text-anchor="end" font-weight="normal" fill="#111" >10</text>
<line x1="166.50" y1="206.13" x2="169.50" y2="206.13" stroke="#111" stroke-width="1.35"/>
<text x="163.30" y="208.88" font-size="7.7" text-anchor="end" font-weight="normal" fill="#111" >20</text>
<line x1="166.50" y1="185.30" x2="169.50" y2="185.30" stroke="#111" stroke-width="1.35"/>
<text x="163.30" y="188.05" font-size="7.7" text-anchor="end" font-weight="normal" fill="#111" >30</text>
<line x1="168.90" y1="247.80" x2="260.00" y2="247.80" stroke="#111" stroke-width="1.35"/>
<line x1="191.30" y1="247.80" x2="191.30" y2="250.80" stroke="#111" stroke-width="1.35"/>
<line x1="213.30" y1="247.80" x2="213.30" y2="250.80" stroke="#111" stroke-width="1.35"/>
<line x1="235.30" y1="247.80" x2="235.30" y2="250.80" stroke="#111" stroke-width="1.35"/>
<line x1="257.20" y1="247.80" x2="257.20" y2="250.80" stroke="#111" stroke-width="1.35"/>
<rect x="172.00" y="232.59" width="4.00" height="15.21" fill="#c4c4c4" />
<line x1="174.00" y1="231.97" x2="174.00" y2="232.89" stroke="#1a1a1a" stroke-width="0.9"/>
<line x1="172.50" y1="231.97" x2="175.50" y2="231.97" stroke="#1a1a1a" stroke-width="1.0"/>
<rect x="176.00" y="235.30" width="4.00" height="12.50" fill="#8a8a8a" />
<line x1="178.00" y1="234.95" x2="178.00" y2="235.60" stroke="#1a1a1a" stroke-width="0.9"/>
<line x1="176.50" y1="234.95" x2="179.50" y2="234.95" stroke="#1a1a1a" stroke-width="1.0"/>
<rect x="180.00" y="219.26" width="4.00" height="28.54" fill="#404040" />
<line x1="182.00" y1="216.55" x2="182.00" y2="219.56" stroke="#1a1a1a" stroke-width="0.9"/>
<line x1="180.50" y1="216.55" x2="183.50" y2="216.55" stroke="#1a1a1a" stroke-width="1.0"/>
<rect x="184.00" y="234.26" width="4.00" height="13.54" fill="#030303" />
<line x1="186.00" y1="232.18" x2="186.00" y2="234.56" stroke="#1a1a1a" stroke-width="0.9"/>
<line x1="184.50" y1="232.18" x2="187.50" y2="232.18" stroke="#1a1a1a" stroke-width="1.0"/>
<rect x="194.10" y="233.63" width="4.00" height="14.17" fill="#c4c4c4" />
<line x1="196.10" y1="232.18" x2="196.10" y2="233.93" stroke="#1a1a1a" stroke-width="0.9"/>
<line x1="194.60" y1="232.18" x2="197.60" y2="232.18" stroke="#1a1a1a" stroke-width="1.0"/>
<rect x="198.10" y="235.30" width="4.00" height="12.50" fill="#8a8a8a" />
<line x1="200.10" y1="233.84" x2="200.10" y2="235.60" stroke="#1a1a1a" stroke-width="0.9"/>
<line x1="198.60" y1="233.84" x2="201.60" y2="233.84" stroke="#1a1a1a" stroke-width="1.0"/>
<rect x="202.10" y="221.34" width="4.00" height="26.46" fill="#404040" />
<line x1="204.10" y1="219.68" x2="204.10" y2="221.64" stroke="#1a1a1a" stroke-width="0.9"/>
<line x1="202.60" y1="219.68" x2="205.60" y2="219.68" stroke="#1a1a1a" stroke-width="1.0"/>
<rect x="206.10" y="235.30" width="4.00" height="12.50" fill="#030303" />
<line x1="208.10" y1="234.95" x2="208.10" y2="235.60" stroke="#1a1a1a" stroke-width="0.9"/>
<line x1="206.60" y1="234.95" x2="209.60" y2="234.95" stroke="#1a1a1a" stroke-width="1.0"/>
<rect x="216.20" y="232.80" width="4.00" height="15.00" fill="#c4c4c4" />
<line x1="218.20" y1="231.55" x2="218.20" y2="233.10" stroke="#1a1a1a" stroke-width="0.9"/>
<line x1="216.70" y1="231.55" x2="219.70" y2="231.55" stroke="#1a1a1a" stroke-width="1.0"/>
<rect x="220.20" y="239.47" width="4.00" height="8.33" fill="#8a8a8a" />
<line x1="222.20" y1="239.12" x2="222.20" y2="239.77" stroke="#1a1a1a" stroke-width="0.9"/>
<line x1="220.70" y1="239.12" x2="223.70" y2="239.12" stroke="#1a1a1a" stroke-width="1.0"/>
<rect x="224.20" y="219.26" width="4.00" height="28.54" fill="#404040" />
<line x1="226.20" y1="216.55" x2="226.20" y2="219.56" stroke="#1a1a1a" stroke-width="0.9"/>
<line x1="224.70" y1="216.55" x2="227.70" y2="216.55" stroke="#1a1a1a" stroke-width="1.0"/>
<rect x="228.20" y="236.97" width="4.00" height="10.83" fill="#030303" />
<line x1="230.20" y1="234.88" x2="230.20" y2="237.27" stroke="#1a1a1a" stroke-width="0.9"/>
<line x1="228.70" y1="234.88" x2="231.70" y2="234.88" stroke="#1a1a1a" stroke-width="1.0"/>
<rect x="238.30" y="229.05" width="4.00" height="18.75" fill="#c4c4c4" />
<line x1="240.30" y1="228.43" x2="240.30" y2="229.35" stroke="#1a1a1a" stroke-width="0.9"/>
<line x1="238.80" y1="228.43" x2="241.80" y2="228.43" stroke="#1a1a1a" stroke-width="1.0"/>
<rect x="242.30" y="240.93" width="4.00" height="6.88" fill="#8a8a8a" />
<line x1="244.30" y1="240.58" x2="244.30" y2="241.23" stroke="#1a1a1a" stroke-width="0.9"/>
<line x1="242.80" y1="240.58" x2="245.80" y2="240.58" stroke="#1a1a1a" stroke-width="1.0"/>
<rect x="246.30" y="208.22" width="4.00" height="39.58" fill="#404040" />
<line x1="248.30" y1="202.38" x2="248.30" y2="208.52" stroke="#1a1a1a" stroke-width="0.9"/>
<line x1="246.80" y1="202.38" x2="249.80" y2="202.38" stroke="#1a1a1a" stroke-width="1.0"/>
<rect x="250.30" y="234.68" width="4.00" height="13.12" fill="#030303" />
<line x1="252.30" y1="234.33" x2="252.30" y2="234.98" stroke="#1a1a1a" stroke-width="0.9"/>
<line x1="250.80" y1="234.33" x2="253.80" y2="234.33" stroke="#1a1a1a" stroke-width="1.0"/>
<line x1="173.80" y1="207.50" x2="188.80" y2="207.50" stroke="#111" stroke-width="1.2"/>
<circle cx="179.30" cy="204.00" r="1.12" fill="#111"/>
<circle cx="183.30" cy="204.00" r="1.12" fill="#111"/>
<line x1="181.30" y1="214.50" x2="188.80" y2="214.50" stroke="#111" stroke-width="1.2"/>
<circle cx="183.05" cy="211.00" r="1.12" fill="#111"/>
<circle cx="187.05" cy="211.00" r="1.12" fill="#111"/>
<line x1="195.50" y1="208.00" x2="210.50" y2="208.00" stroke="#111" stroke-width="1.2"/>
<circle cx="201.00" cy="204.50" r="1.12" fill="#111"/>
<circle cx="205.00" cy="204.50" r="1.12" fill="#111"/>
<line x1="203.00" y1="215.00" x2="210.50" y2="215.00" stroke="#111" stroke-width="1.2"/>
<circle cx="204.75" cy="211.50" r="1.12" fill="#111"/>
<circle cx="208.75" cy="211.50" r="1.12" fill="#111"/>
<line x1="216.70" y1="206.00" x2="232.00" y2="206.00" stroke="#111" stroke-width="1.2"/>
<circle cx="222.35" cy="202.50" r="1.12" fill="#111"/>
<circle cx="226.35" cy="202.50" r="1.12" fill="#111"/>
<line x1="224.50" y1="213.50" x2="232.50" y2="213.50" stroke="#111" stroke-width="1.2"/>
<circle cx="226.50" cy="210.00" r="1.12" fill="#111"/>
<circle cx="230.50" cy="210.00" r="1.12" fill="#111"/>
<line x1="238.30" y1="192.80" x2="255.20" y2="192.80" stroke="#111" stroke-width="1.2"/>
<circle cx="244.75" cy="189.30" r="1.12" fill="#111"/>
<circle cx="248.75" cy="189.30" r="1.12" fill="#111"/>
<line x1="245.50" y1="200.50" x2="253.20" y2="200.50" stroke="#111" stroke-width="1.2"/>
<circle cx="247.35" cy="197.00" r="1.12" fill="#111"/>
<circle cx="251.35" cy="197.00" r="1.12" fill="#111"/>
<text x="180.80" y="260.70" font-size="7.8" text-anchor="middle" font-weight="normal" fill="#111" >4</text>
<text x="202.50" y="260.70" font-size="7.8" text-anchor="middle" font-weight="normal" fill="#111" >8</text>
<text x="224.50" y="260.70" font-size="7.8" text-anchor="middle" font-weight="normal" fill="#111" >12</text>
<text x="245.80" y="260.70" font-size="7.8" text-anchor="middle" font-weight="normal" fill="#111" >24</text>
<text x="215.00" y="176.70" font-size="9.3" text-anchor="middle" font-weight="normal" fill="#111" >LY</text>
<text x="214.50" y="274.40" font-size="10" text-anchor="middle" font-weight="normal" fill="#111" textLength="25.2" lengthAdjust="spacingAndGlyphs" >Weeks</text>
<text transform="translate(149.70,227.90) rotate(-90)" x="0" y="0" font-size="9" text-anchor="start" font-weight="normal" fill="#111" textLength="25.5" lengthAdjust="spacingAndGlyphs" >10<tspan font-size="5.6" dy="-3.3">3</tspan><tspan dy="3.3">/µL</tspan></text>
<text x="139.10" y="165.20" font-size="12" text-anchor="start" font-weight="bold" fill="#111" >F</text>
<line x1="297.30" y1="183.00" x2="297.30" y2="250.40" stroke="#111" stroke-width="1.35"/>
<line x1="294.30" y1="247.80" x2="297.30" y2="247.80" stroke="#111" stroke-width="1.35"/>
<text x="291.10" y="250.55" font-size="7.7" text-anchor="end" font-weight="normal" fill="#111" >0</text>
<line x1="294.30" y1="235.42" x2="297.30" y2="235.42" stroke="#111" stroke-width="1.35"/>
<text x="291.10" y="238.17" font-size="7.7" text-anchor="end" font-weight="normal" fill="#111" >1</text>
<line x1="294.30" y1="223.04" x2="297.30" y2="223.04" stroke="#111" stroke-width="1.35"/>
<text x="291.10" y="225.79" font-size="7.7" text-anchor="end" font-weight="normal" fill="#111" >2</text>
<line x1="294.30" y1="210.66" x2="297.30" y2="210.66" stroke="#111" stroke-width="1.35"/>
<text x="291.10" y="213.41" font-size="7.7" text-anchor="end" font-weight="normal" fill="#111" >3</text>
<line x1="294.30" y1="198.28" x2="297.30" y2="198.28" stroke="#111" stroke-width="1.35"/>
<text x="291.10" y="201.03" font-size="7.7" text-anchor="end" font-weight="normal" fill="#111" >4</text>
<line x1="294.30" y1="185.90" x2="297.30" y2="185.90" stroke="#111" stroke-width="1.35"/>
<text x="291.10" y="188.65" font-size="7.7" text-anchor="end" font-weight="normal" fill="#111" >5</text>
<line x1="296.70" y1="247.80" x2="387.50" y2="247.80" stroke="#111" stroke-width="1.35"/>
<line x1="319.20" y1="247.80" x2="319.20" y2="250.80" stroke="#111" stroke-width="1.35"/>
<line x1="341.10" y1="247.80" x2="341.10" y2="250.80" stroke="#111" stroke-width="1.35"/>
<line x1="363.00" y1="247.80" x2="363.00" y2="250.80" stroke="#111" stroke-width="1.35"/>
<line x1="384.70" y1="247.80" x2="384.70" y2="250.80" stroke="#111" stroke-width="1.35"/>
<rect x="300.50" y="232.70" width="3.90" height="15.10" fill="#c4c4c4" />
<line x1="302.45" y1="232.20" x2="302.45" y2="233.00" stroke="#1a1a1a" stroke-width="0.9"/>
<line x1="300.95" y1="232.20" x2="303.95" y2="232.20" stroke="#1a1a1a" stroke-width="1.0"/>
<rect x="304.40" y="231.09" width="3.90" height="16.71" fill="#8a8a8a" />
<line x1="306.35" y1="230.74" x2="306.35" y2="231.39" stroke="#1a1a1a" stroke-width="0.9"/>
<line x1="304.85" y1="230.74" x2="307.85" y2="230.74" stroke="#1a1a1a" stroke-width="1.0"/>
<rect x="308.30" y="226.75" width="3.90" height="21.05" fill="#404040" />
<line x1="310.25" y1="226.40" x2="310.25" y2="227.05" stroke="#1a1a1a" stroke-width="0.9"/>
<line x1="308.75" y1="226.40" x2="311.75" y2="226.40" stroke="#1a1a1a" stroke-width="1.0"/>
<rect x="312.20" y="219.33" width="3.90" height="28.47" fill="#030303" />
<line x1="314.15" y1="217.47" x2="314.15" y2="219.63" stroke="#1a1a1a" stroke-width="0.9"/>
<line x1="312.65" y1="217.47" x2="315.65" y2="217.47" stroke="#1a1a1a" stroke-width="1.0"/>
<rect x="322.25" y="232.33" width="3.90" height="15.48" fill="#c4c4c4" />
<line x1="324.20" y1="231.71" x2="324.20" y2="232.63" stroke="#1a1a1a" stroke-width="0.9"/>
<line x1="322.70" y1="231.71" x2="325.70" y2="231.71" stroke="#1a1a1a" stroke-width="1.0"/>
<rect x="326.15" y="232.94" width="3.90" height="14.86" fill="#8a8a8a" />
<line x1="328.10" y1="232.59" x2="328.10" y2="233.24" stroke="#1a1a1a" stroke-width="0.9"/>
<line x1="326.60" y1="232.59" x2="329.60" y2="232.59" stroke="#1a1a1a" stroke-width="1.0"/>
<rect x="330.05" y="225.52" width="3.90" height="22.28" fill="#404040" />
<line x1="332.00" y1="225.17" x2="332.00" y2="225.82" stroke="#1a1a1a" stroke-width="0.9"/>
<line x1="330.50" y1="225.17" x2="333.50" y2="225.17" stroke="#1a1a1a" stroke-width="1.0"/>
<rect x="333.95" y="218.71" width="3.90" height="29.09" fill="#030303" />
<line x1="335.90" y1="217.47" x2="335.90" y2="219.01" stroke="#1a1a1a" stroke-width="0.9"/>
<line x1="334.40" y1="217.47" x2="337.40" y2="217.47" stroke="#1a1a1a" stroke-width="1.0"/>
<rect x="344.00" y="233.56" width="3.90" height="14.24" fill="#c4c4c4" />
<line x1="345.95" y1="233.21" x2="345.95" y2="233.86" stroke="#1a1a1a" stroke-width="0.9"/>
<line x1="344.45" y1="233.21" x2="347.45" y2="233.21" stroke="#1a1a1a" stroke-width="1.0"/>
<rect x="347.90" y="233.56" width="3.90" height="14.24" fill="#8a8a8a" />
<line x1="349.85" y1="233.21" x2="349.85" y2="233.86" stroke="#1a1a1a" stroke-width="0.9"/>
<line x1="348.35" y1="233.21" x2="351.35" y2="233.21" stroke="#1a1a1a" stroke-width="1.0"/>
<rect x="351.80" y="224.28" width="3.90" height="23.52" fill="#404040" />
<line x1="353.75" y1="223.93" x2="353.75" y2="224.58" stroke="#1a1a1a" stroke-width="0.9"/>
<line x1="352.25" y1="223.93" x2="355.25" y2="223.93" stroke="#1a1a1a" stroke-width="1.0"/>
<rect x="355.70" y="219.33" width="3.90" height="28.47" fill="#030303" />
<line x1="357.65" y1="218.98" x2="357.65" y2="219.63" stroke="#1a1a1a" stroke-width="0.9"/>
<line x1="356.15" y1="218.98" x2="359.15" y2="218.98" stroke="#1a1a1a" stroke-width="1.0"/>
<rect x="365.75" y="230.47" width="3.90" height="17.33" fill="#c4c4c4" />
<line x1="367.70" y1="227.99" x2="367.70" y2="230.77" stroke="#1a1a1a" stroke-width="0.9"/>
<line x1="366.20" y1="227.99" x2="369.20" y2="227.99" stroke="#1a1a1a" stroke-width="1.0"/>
<rect x="369.65" y="232.33" width="3.90" height="15.48" fill="#8a8a8a" />
<line x1="371.60" y1="231.98" x2="371.60" y2="232.63" stroke="#1a1a1a" stroke-width="0.9"/>
<line x1="370.10" y1="231.98" x2="373.10" y2="231.98" stroke="#1a1a1a" stroke-width="1.0"/>
<rect x="373.55" y="223.04" width="3.90" height="24.76" fill="#404040" />
<line x1="375.50" y1="219.33" x2="375.50" y2="223.34" stroke="#1a1a1a" stroke-width="0.9"/>
<line x1="374.00" y1="219.33" x2="377.00" y2="219.33" stroke="#1a1a1a" stroke-width="1.0"/>
<rect x="377.45" y="198.28" width="3.90" height="49.52" fill="#030303" />
<line x1="379.40" y1="191.47" x2="379.40" y2="198.58" stroke="#1a1a1a" stroke-width="0.9"/>
<line x1="377.90" y1="191.47" x2="380.90" y2="191.47" stroke="#1a1a1a" stroke-width="1.0"/>
<line x1="301.20" y1="207.10" x2="316.90" y2="207.10" stroke="#111" stroke-width="1.2"/>
<circle cx="307.05" cy="203.60" r="1.12" fill="#111"/>
<circle cx="311.05" cy="203.60" r="1.12" fill="#111"/>
<line x1="309.30" y1="213.40" x2="317.80" y2="213.40" stroke="#111" stroke-width="1.2"/>
<circle cx="313.55" cy="209.90" r="1.12" fill="#111"/>
<line x1="323.20" y1="205.90" x2="338.50" y2="205.90" stroke="#111" stroke-width="1.2"/>
<circle cx="328.85" cy="202.40" r="1.12" fill="#111"/>
<circle cx="332.85" cy="202.40" r="1.12" fill="#111"/>
<line x1="330.20" y1="213.40" x2="338.00" y2="213.40" stroke="#111" stroke-width="1.2"/>
<circle cx="334.10" cy="209.90" r="1.12" fill="#111"/>
<line x1="344.50" y1="209.50" x2="360.00" y2="209.50" stroke="#111" stroke-width="1.2"/>
<circle cx="350.25" cy="206.00" r="1.12" fill="#111"/>
<circle cx="354.25" cy="206.00" r="1.12" fill="#111"/>
<line x1="352.50" y1="216.30" x2="360.00" y2="216.30" stroke="#111" stroke-width="1.2"/>
<circle cx="356.25" cy="212.80" r="1.12" fill="#111"/>
<line x1="366.70" y1="190.70" x2="381.80" y2="190.70" stroke="#111" stroke-width="1.2"/>
<circle cx="372.25" cy="187.20" r="1.12" fill="#111"/>
<circle cx="376.25" cy="187.20" r="1.12" fill="#111"/>
<line x1="371.40" y1="196.20" x2="379.60" y2="196.20" stroke="#111" stroke-width="1.2"/>
<circle cx="375.50" cy="192.70" r="1.12" fill="#111"/>
<text x="307.50" y="260.70" font-size="7.8" text-anchor="middle" font-weight="normal" fill="#111" >4</text>
<text x="329.50" y="260.70" font-size="7.8" text-anchor="middle" font-weight="normal" fill="#111" >8</text>
<text x="351.30" y="260.70" font-size="7.8" text-anchor="middle" font-weight="normal" fill="#111" >12</text>
<text x="373.00" y="260.70" font-size="7.8" text-anchor="middle" font-weight="normal" fill="#111" >24</text>
<text x="341.00" y="176.70" font-size="9.3" text-anchor="middle" font-weight="normal" fill="#111" >PLT</text>
<text x="342.50" y="274.40" font-size="10" text-anchor="middle" font-weight="normal" fill="#111" textLength="25.2" lengthAdjust="spacingAndGlyphs" >Weeks</text>
<text transform="translate(280.70,226.20) rotate(-90)" x="0" y="0" font-size="8.5" text-anchor="start" font-weight="normal" fill="#111" textLength="22.3" lengthAdjust="spacingAndGlyphs" >10<tspan font-size="5.6" dy="-3.3">6</tspan><tspan dy="3.3">/µl</tspan></text>
<text x="270.20" y="165.20" font-size="12" text-anchor="start" font-weight="bold" fill="#111" >G</text>
<text x="6.90" y="15.30" font-size="12" text-anchor="start" font-weight="bold" fill="#111" >A</text>
<text transform="translate(65.30,73.10) rotate(-90)" x="0" y="0" font-size="8" text-anchor="start" font-weight="normal" fill="#111" >Control</text>
<text transform="translate(87.30,73.10) rotate(-90)" x="0" y="0" font-size="8" text-anchor="start" font-weight="normal" fill="#111" >Ezh2<tspan font-size="4.4" dy="-3.3" letter-spacing="0.6">-/-</tspan></text>
<text transform="translate(108.20,73.10) rotate(-90)" x="0" y="0" font-size="8" text-anchor="start" font-weight="normal" fill="#111" >Jak2<tspan font-size="4.4" dy="-3.3" letter-spacing="0.6">VF/+</tspan></text>
<text transform="translate(127.30,73.10) rotate(-90)" x="0" y="0" font-size="8" text-anchor="start" font-weight="normal" fill="#111" >Jak2<tspan font-size="4.4" dy="-3.3" letter-spacing="0.6">VF/+</tspan><tspan dy="3"> Ezh2</tspan><tspan font-size="4.4" dy="-3.3" letter-spacing="0.6">-/-</tspan></text>
<rect x="49.6" y="75.3" width="86.8" height="14.10" fill="#e3e3e3" stroke="#111" stroke-width="1.3"/>
<rect x="49.6" y="91.3" width="86.8" height="14.30" fill="#f6f6f6" stroke="#111" stroke-width="1.3"/>
<rect x="49.6" y="108.0" width="86.8" height="14.60" fill="#f4f4f4" stroke="#111" stroke-width="1.3"/>
<rect x="49.6" y="125.6" width="86.8" height="13.60" fill="#f8f8f8" stroke="#111" stroke-width="1.3"/>
<text x="46.40" y="86.20" font-size="8" text-anchor="end" font-weight="normal" fill="#111" >Ezh2</text>
<text x="46.40" y="102.20" font-size="8" text-anchor="end" font-weight="normal" fill="#111" >H3K27me3</text>
<text x="46.40" y="117.60" font-size="8" text-anchor="end" font-weight="normal" fill="#111" >Histone H3</text>
<text x="45.90" y="133.30" font-size="8" text-anchor="end" font-weight="normal" fill="#111" >&#946;-actin</text>
<ellipse cx="63.50" cy="85.00" rx="9.80" ry="3.00" fill="#7a7a7a" filter="url(#bl10)"/>
<ellipse cx="105.00" cy="85.60" rx="9.40" ry="2.80" fill="#6a6a6a" filter="url(#bl10)"/>
<rect x="54.2" y="79.9" width="18.2" height="4.8" rx="2.2" fill="#0e0e0e" filter="url(#bl6)"/>
<rect x="96.2" y="80.2" width="17.4" height="5.6" rx="2.4" fill="#0a0a0a" filter="url(#bl6)"/>
<ellipse cx="63.20" cy="98.60" rx="9.90" ry="1.35" fill="#101010" filter="url(#bl6)"/>
<ellipse cx="83.00" cy="98.70" rx="7.30" ry="0.80" fill="#6a6a6a" filter="url(#bl6)"/>
<ellipse cx="103.00" cy="98.60" rx="9.60" ry="1.45" fill="#0c0c0c" filter="url(#bl6)"/>
<ellipse cx="123.20" cy="98.80" rx="7.90" ry="0.80" fill="#777777" filter="url(#bl6)"/>
<path d="M53.6,117.6 C57,116.3 62,115.7 70,115.5 C90,115.2 110,115.4 125,115.6 C131,115.8 134,116.1 135.2,116.5" stroke="#0e0e0e" stroke-width="3.2" fill="none" stroke-linecap="round" filter="url(#bl6)"/>
<ellipse cx="65.25" cy="131.60" rx="8.95" ry="1.10" fill="#111111" filter="url(#bl6)"/>
<ellipse cx="84.55" cy="131.60" rx="7.05" ry="1.10" fill="#111111" filter="url(#bl6)"/>
<ellipse cx="103.45" cy="131.60" rx="8.25" ry="1.10" fill="#111111" filter="url(#bl6)"/>
<ellipse cx="123.25" cy="131.60" rx="7.95" ry="1.10" fill="#111111" filter="url(#bl6)"/>
<text x="396.10" y="165.20" font-size="12" text-anchor="start" font-weight="bold" fill="#111" >H</text>
<text x="467.20" y="177.20" font-size="9.4" text-anchor="middle" font-weight="normal" fill="#111" textLength="51.5" lengthAdjust="spacingAndGlyphs" >Reticulocyte</text>
<line x1="421.00" y1="183.50" x2="421.00" y2="249.80" stroke="#111" stroke-width="1.35"/>
<line x1="418.00" y1="247.00" x2="421.00" y2="247.00" stroke="#111" stroke-width="1.35"/>
<text x="415.50" y="249.70" font-size="7.5" text-anchor="end" font-weight="normal" fill="#111" >0</text>
<line x1="418.00" y1="231.50" x2="421.00" y2="231.50" stroke="#111" stroke-width="1.35"/>
<text x="415.50" y="234.20" font-size="7.5" text-anchor="end" font-weight="normal" fill="#111" >2</text>
<line x1="418.00" y1="216.00" x2="421.00" y2="216.00" stroke="#111" stroke-width="1.35"/>
<text x="415.50" y="218.70" font-size="7.5" text-anchor="end" font-weight="normal" fill="#111" >4</text>
<line x1="418.00" y1="200.50" x2="421.00" y2="200.50" stroke="#111" stroke-width="1.35"/>
<text x="415.50" y="203.20" font-size="7.5" text-anchor="end" font-weight="normal" fill="#111" >6</text>
<line x1="418.00" y1="185.00" x2="421.00" y2="185.00" stroke="#111" stroke-width="1.35"/>
<text x="415.50" y="187.70" font-size="7.5" text-anchor="end" font-weight="normal" fill="#111" >8</text>
<line x1="420.40" y1="247.00" x2="513.00" y2="247.00" stroke="#111" stroke-width="1.35"/>
<line x1="421.00" y1="247.00" x2="421.00" y2="250.00" stroke="#111" stroke-width="1.35"/>
<line x1="443.40" y1="247.00" x2="443.40" y2="250.00" stroke="#111" stroke-width="1.35"/>
<line x1="465.60" y1="247.00" x2="465.60" y2="250.00" stroke="#111" stroke-width="1.35"/>
<line x1="488.00" y1="247.00" x2="488.00" y2="250.00" stroke="#111" stroke-width="1.35"/>
<line x1="510.30" y1="247.00" x2="510.30" y2="250.00" stroke="#111" stroke-width="1.35"/>
<line x1="432.40" y1="233.44" x2="432.40" y2="236.15" stroke="#222" stroke-width="1.1"/>
<line x1="429.80" y1="233.44" x2="435.00" y2="233.44" stroke="#222" stroke-width="1.2"/>
<rect x="427.70" y="236.15" width="9.40" height="10.85" fill="#c4c4c4" />
<line x1="454.70" y1="233.05" x2="454.70" y2="233.82" stroke="#222" stroke-width="1.1"/>
<line x1="452.10" y1="233.05" x2="457.30" y2="233.05" stroke="#222" stroke-width="1.2"/>
<rect x="450.00" y="233.82" width="9.40" height="13.17" fill="#8a8a8a" />
<line x1="477.10" y1="194.30" x2="477.10" y2="198.95" stroke="#222" stroke-width="1.1"/>
<line x1="474.50" y1="194.30" x2="479.70" y2="194.30" stroke="#222" stroke-width="1.2"/>
<rect x="472.40" y="198.95" width="9.40" height="48.05" fill="#404040" />
<line x1="499.40" y1="219.10" x2="499.40" y2="222.20" stroke="#222" stroke-width="1.1"/>
<line x1="496.80" y1="219.10" x2="502.00" y2="219.10" stroke="#222" stroke-width="1.2"/>
<rect x="494.70" y="222.20" width="9.40" height="24.80" fill="#030303" />
<line x1="430.60" y1="191.90" x2="503.80" y2="191.90" stroke="#111" stroke-width="1.2"/>
<circle cx="465.20" cy="188.40" r="1.12" fill="#111"/>
<circle cx="469.20" cy="188.40" r="1.12" fill="#111"/>
<line x1="482.50" y1="197.10" x2="506.30" y2="197.10" stroke="#111" stroke-width="1.2"/>
<circle cx="494.50" cy="193.60" r="1.12" fill="#111"/>
<text transform="translate(405.10,214.50) rotate(-90)" x="0" y="0" font-size="9.5" text-anchor="middle" font-weight="normal" fill="#111" >%</text>
<text transform="translate(434.80,258.30) rotate(-45)" x="0" y="0" font-size="7.9" text-anchor="end" font-weight="normal" fill="#111" >Control</text>
<text transform="translate(456.30,258.30) rotate(-45)" x="0" y="0" font-size="7.9" text-anchor="end" font-weight="normal" fill="#111" >Ezh2<tspan font-size="5" dy="-2.8">-/-</tspan></text>
<text transform="translate(479.00,258.30) rotate(-45)" x="0" y="0" font-size="7.9" text-anchor="end" font-weight="normal" fill="#111" >Jak2<tspan font-size="5" dy="-2.8">VF/+</tspan></text>
<text transform="translate(501.20,258.30) rotate(-45)" x="0" y="0" font-size="7.9" text-anchor="end" font-weight="normal" fill="#111" >Jak2<tspan font-size="5" dy="-2.8">VF/+</tspan></text>
<text transform="translate(507.60,265.00) rotate(-45)" x="0" y="0" font-size="7.9" text-anchor="end" font-weight="normal" fill="#111" >Ezh2<tspan font-size="5" dy="-2.8">-/-</tspan></text>
<text x="91.10" y="311.60" font-size="12" text-anchor="start" font-weight="bold" fill="#111" >I</text>
<defs><linearGradient id="pg" x1="0" y1="0" x2="0" y2="1"><stop offset="0" stop-color="#e6e6e6"/><stop offset="1" stop-color="#dadada"/></linearGradient></defs>
<rect x="116.1" y="320.2" width="94.4" height="61.2" fill="url(#pg)" stroke="#262626" stroke-width="1.8"/>
<rect x="117.6" y="321.7" width="91.4" height="58.2" fill="none" stroke="#f4f4f4" stroke-width="0.9"/>
<g fill="#0a0a0a" stroke="#0a0a0a" stroke-width="1.3" stroke-linejoin="round" filter="url(#bl4)">
<path d="M126.70,341.70 C127.27,341.62 128.63,341.47 129.40,341.90 C130.17,342.33 130.80,343.27 131.30,344.30 C131.80,345.33 132.22,346.83 132.40,348.10 C132.58,349.37 132.53,350.63 132.40,351.90 C132.27,353.17 131.98,354.43 131.60,355.70 C131.22,356.97 130.72,358.37 130.10,359.50 C129.48,360.63 128.65,361.80 127.90,362.50 C127.15,363.20 126.30,363.57 125.60,363.70 C124.90,363.83 124.22,363.68 123.70,363.30 C123.18,362.92 122.63,362.28 122.50,361.40 C122.37,360.52 122.58,359.33 122.90,358.00 C123.22,356.67 123.95,354.92 124.40,353.40 C124.85,351.88 125.40,350.28 125.60,348.90 C125.80,347.52 125.53,346.18 125.60,345.10 C125.67,344.02 125.82,342.97 126.00,342.40 C126.18,341.83 126.13,341.78 126.70,341.70 Z"/>
<path d="M143.40,341.70 C143.92,341.30 145.00,341.47 145.70,341.90 C146.40,342.33 147.03,343.27 147.60,344.30 C148.17,345.33 148.78,346.83 149.10,348.10 C149.42,349.37 149.57,350.50 149.50,351.90 C149.43,353.30 149.08,355.23 148.70,356.50 C148.32,357.77 147.77,358.75 147.20,359.50 C146.63,360.25 145.93,360.68 145.30,361.00 C144.67,361.32 143.90,361.52 143.40,361.40 C142.90,361.28 142.52,361.00 142.30,360.30 C142.08,359.60 142.10,358.47 142.10,357.20 C142.10,355.93 142.25,354.22 142.30,352.70 C142.35,351.18 142.35,349.50 142.40,348.10 C142.45,346.70 142.43,345.37 142.60,344.30 C142.77,343.23 142.88,342.10 143.40,341.70 Z"/>
<path d="M159.80,327.20 C160.22,326.55 161.03,326.30 162.00,326.10 C162.97,325.90 164.43,325.73 165.60,326.00 C166.77,326.27 167.95,326.87 169.00,327.70 C170.05,328.53 171.05,329.70 171.90,331.00 C172.75,332.30 173.50,333.83 174.10,335.50 C174.70,337.17 175.20,338.92 175.50,341.00 C175.80,343.08 175.92,345.67 175.90,348.00 C175.88,350.33 175.73,352.75 175.40,355.00 C175.07,357.25 174.53,359.43 173.90,361.50 C173.27,363.57 172.53,365.42 171.60,367.40 C170.67,369.38 169.40,371.87 168.30,373.40 C167.20,374.93 166.12,376.02 165.00,376.60 C163.88,377.18 162.68,377.20 161.60,376.90 C160.52,376.60 159.17,375.93 158.50,374.80 C157.83,373.67 157.60,372.02 157.60,370.10 C157.60,368.18 158.03,365.58 158.50,363.30 C158.97,361.02 159.98,358.78 160.40,356.40 C160.82,354.02 160.95,351.40 161.00,349.00 C161.05,346.60 160.85,344.33 160.70,342.00 C160.55,339.67 160.30,337.00 160.10,335.00 C159.90,333.00 159.55,331.30 159.50,330.00 C159.45,328.70 159.38,327.85 159.80,327.20 Z"/>
<path d="M186.40,335.80 C186.63,335.12 187.58,334.58 188.50,334.40 C189.42,334.22 190.65,334.25 191.90,334.70 C193.15,335.15 194.73,335.78 196.00,337.10 C197.27,338.42 198.58,340.53 199.50,342.60 C200.42,344.67 201.28,346.97 201.50,349.50 C201.72,352.03 201.37,355.28 200.80,357.80 C200.23,360.32 199.23,362.55 198.10,364.60 C196.97,366.65 195.27,368.83 194.00,370.10 C192.73,371.37 191.65,371.97 190.50,372.20 C189.35,372.43 188.02,372.30 187.10,371.50 C186.18,370.70 185.00,368.77 185.00,367.40 C185.00,366.03 186.30,365.13 187.10,363.30 C187.90,361.47 189.12,358.70 189.80,356.40 C190.48,354.10 190.97,351.57 191.20,349.50 C191.43,347.43 191.43,345.60 191.20,344.00 C190.97,342.40 190.48,340.82 189.80,339.90 C189.12,338.98 187.67,339.18 187.10,338.50 C186.53,337.82 186.17,336.48 186.40,335.80 Z"/>
</g>
<ellipse cx="125.0" cy="360.0" rx="0.6" ry="0.9" fill="#9a9a9a" filter="url(#bl4)"/>
<ellipse cx="143.6" cy="358.8" rx="0.5" ry="0.8" fill="#9a9a9a" filter="url(#bl4)"/>
<ellipse cx="160.8" cy="370.5" rx="0.6" ry="1.0" fill="#9a9a9a" filter="url(#bl4)"/>
<ellipse cx="188.6" cy="366.5" rx="0.6" ry="0.9" fill="#9a9a9a" filter="url(#bl4)"/>
<text transform="translate(128.00,390.50) rotate(-45)" x="0" y="0" font-size="7.9" text-anchor="end" font-weight="normal" fill="#111" >Control</text>
<text transform="translate(150.30,390.00) rotate(-45)" x="0" y="0" font-size="7.9" text-anchor="end" font-weight="normal" fill="#111" >Ezh2<tspan font-size="5" dy="-2.8">-/-</tspan></text>
<text transform="translate(173.50,390.00) rotate(-45)" x="0" y="0" font-size="7.9" text-anchor="end" font-weight="normal" fill="#111" >Jak2<tspan font-size="5" dy="-2.8">VF/+</tspan></text>
<text transform="translate(198.50,390.00) rotate(-45)" x="0" y="0" font-size="7.9" text-anchor="end" font-weight="normal" fill="#111" >Jak2<tspan font-size="5" dy="-2.8">VF/+</tspan></text>
<text transform="translate(205.30,397.50) rotate(-45)" x="0" y="0" font-size="7.9" text-anchor="end" font-weight="normal" fill="#111" >Ezh2<tspan font-size="5" dy="-2.8">-/-</tspan></text>
<text x="305.20" y="312.30" font-size="9.6" text-anchor="middle" font-weight="normal" fill="#111" textLength="61.2" lengthAdjust="spacingAndGlyphs" >Spleen weight</text>
<line x1="259.00" y1="318.50" x2="259.00" y2="383.10" stroke="#111" stroke-width="1.35"/>
<line x1="256.00" y1="382.50" x2="259.00" y2="382.50" stroke="#111" stroke-width="1.35"/>
<text x="252.40" y="385.20" font-size="7.5" text-anchor="end" font-weight="normal" fill="#111" >0</text>
<line x1="256.00" y1="351.45" x2="259.00" y2="351.45" stroke="#111" stroke-width="1.35"/>
<text x="252.40" y="354.15" font-size="7.5" text-anchor="end" font-weight="normal" fill="#111" >500</text>
<line x1="256.00" y1="320.40" x2="259.00" y2="320.40" stroke="#111" stroke-width="1.35"/>
<text x="252.40" y="323.10" font-size="7.5" text-anchor="end" font-weight="normal" fill="#111" >1000</text>
<line x1="258.40" y1="382.50" x2="351.40" y2="382.50" stroke="#111" stroke-width="1.35"/>
<line x1="270.30" y1="375.05" x2="270.30" y2="376.29" stroke="#222" stroke-width="1.1"/>
<line x1="267.70" y1="375.05" x2="272.90" y2="375.05" stroke="#222" stroke-width="1.2"/>
<rect x="265.60" y="376.29" width="9.40" height="6.21" fill="#c4c4c4" />
<line x1="270.30" y1="382.50" x2="270.30" y2="385.50" stroke="#111" stroke-width="1.35"/>
<line x1="293.40" y1="375.67" x2="293.40" y2="377.53" stroke="#222" stroke-width="1.1"/>
<line x1="290.80" y1="375.67" x2="296.00" y2="375.67" stroke="#222" stroke-width="1.2"/>
<rect x="288.70" y="377.53" width="9.40" height="4.97" fill="#8a8a8a" />
<line x1="293.40" y1="382.50" x2="293.40" y2="385.50" stroke="#111" stroke-width="1.35"/>
<line x1="316.60" y1="336.24" x2="316.60" y2="337.17" stroke="#222" stroke-width="1.1"/>
<line x1="314.00" y1="336.24" x2="319.20" y2="336.24" stroke="#222" stroke-width="1.2"/>
<rect x="311.90" y="337.17" width="9.40" height="45.33" fill="#404040" />
<line x1="316.60" y1="382.50" x2="316.60" y2="385.50" stroke="#111" stroke-width="1.35"/>
<line x1="339.80" y1="359.21" x2="339.80" y2="361.39" stroke="#222" stroke-width="1.1"/>
<line x1="337.20" y1="359.21" x2="342.40" y2="359.21" stroke="#222" stroke-width="1.2"/>
<rect x="335.10" y="361.39" width="9.40" height="21.11" fill="#030303" />
<line x1="339.80" y1="382.50" x2="339.80" y2="385.50" stroke="#111" stroke-width="1.35"/>
<line x1="270.50" y1="327.30" x2="343.90" y2="327.30" stroke="#111" stroke-width="1.2"/>
<circle cx="305.20" cy="323.90" r="0.9" fill="#111"/>
<circle cx="308.80" cy="323.90" r="0.9" fill="#111"/>
<line x1="314.50" y1="333.80" x2="345.00" y2="333.80" stroke="#111" stroke-width="1.2"/>
<circle cx="329.40" cy="330.60" r="0.9" fill="#111"/>
<text transform="translate(230.30,354.30) rotate(-90)" x="0" y="0" font-size="9.5" text-anchor="middle" font-weight="normal" fill="#111" >mg</text>
<text transform="translate(273.00,392.60) rotate(-45)" x="0" y="0" font-size="7.9" text-anchor="end" font-weight="normal" fill="#111" >Control</text>
<text transform="translate(294.50,392.50) rotate(-45)" x="0" y="0" font-size="7.9" text-anchor="end" font-weight="normal" fill="#111" >Ezh2<tspan font-size="5" dy="-2.8">-/-</tspan></text>
<text transform="translate(317.80,392.50) rotate(-45)" x="0" y="0" font-size="7.9" text-anchor="end" font-weight="normal" fill="#111" >Jak2<tspan font-size="5" dy="-2.8">VF/+</tspan></text>
<text transform="translate(342.00,392.50) rotate(-45)" x="0" y="0" font-size="7.9" text-anchor="end" font-weight="normal" fill="#111" >Jak2<tspan font-size="5" dy="-2.8">VF/+</tspan></text>
<text transform="translate(348.50,399.00) rotate(-45)" x="0" y="0" font-size="7.9" text-anchor="end" font-weight="normal" fill="#111" >Ezh2<tspan font-size="5" dy="-2.8">-/-</tspan></text>
<rect x="361" y="321" width="67" height="47.6" fill="#fff" stroke="#444" stroke-width="1"/>
<rect x="364.60" y="325.10" width="6.00" height="6.00" fill="#c4c4c4" />
<rect x="364.60" y="335.90" width="6.00" height="6.00" fill="#8a8a8a" />
<rect x="364.60" y="347.10" width="6.00" height="6.00" fill="#404040" />
<rect x="364.60" y="358.30" width="6.00" height="6.00" fill="#030303" />
<text x="372.20" y="330.90" font-size="7.7" text-anchor="start" font-weight="normal" fill="#111" >Control</text>
<text x="372.20" y="341.70" font-size="7.7" text-anchor="start" font-weight="normal" fill="#111" >Ezh2<tspan font-size="5" dy="-2.8">-/-</tspan></text>
<text x="372.20" y="352.90" font-size="7.7" text-anchor="start" font-weight="normal" fill="#111" >Jak2<tspan font-size="5" dy="-2.8">VF/+</tspan></text>
<text x="372.20" y="364.10" font-size="7.7" text-anchor="start" font-weight="normal" fill="#111" >Jak2<tspan font-size="5" dy="-2.8">VF/+</tspan><tspan dy="2.8"> Ezh2</tspan><tspan font-size="5" dy="-2.8">-/-</tspan></text>
<rect x="0.6" y="0.6" width="518.8" height="420.8" fill="none" stroke="#111" stroke-width="1.2"/>
</svg></body></html>
